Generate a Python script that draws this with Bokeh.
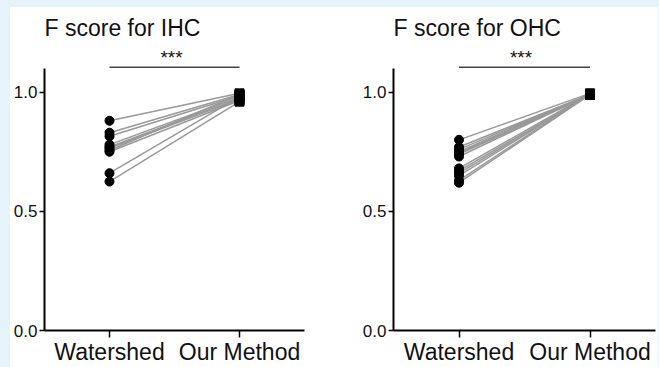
from bokeh.plotting import figure
from bokeh.layouts import row, column
from bokeh.models import Spacer, FixedTicker, NumeralTickFormatter, Range1d, FactorRange
from bokeh.core.properties import value
from bokeh.embed import file_html
from bokeh.resources import INLINE

groups = ["Watershed", "Our Method"]

ihc_watershed = [0.88, 0.83, 0.815, 0.78, 0.77, 0.765, 0.755, 0.75, 0.66, 0.625]
ihc_ours = [0.995, 0.99, 0.985, 0.98, 0.975, 0.97, 0.99, 0.965, 0.98, 0.96]

ohc_watershed = [0.80, 0.77, 0.76, 0.75, 0.745, 0.74, 0.73, 0.68, 0.67, 0.66, 0.65, 0.63, 0.62]
ohc_ours = [0.995, 0.99, 0.99, 0.992, 0.99, 0.988, 0.99, 0.993, 0.99, 0.989, 0.99, 0.991, 0.99]

titles = ["F score for IHC", "F score for OHC"]
sig_label = "***"
sig_y = 1.105
y_ticks = [0.0, 0.5, 1.0]

FONT = "Liberation Sans"
BG = "#e7f3fb"
TOP_PAD = 7
FIG_H = 367 - TOP_PAD


def make_panel(title, ws, ours, width, left_border, right_border):
    p = figure(width=width, height=FIG_H, x_range=FactorRange(factors=groups),
               y_range=Range1d(0, 1.2), output_backend="svg", toolbar_location=None,
               min_border_left=left_border, min_border_right=right_border,
               min_border_top=37, min_border_bottom=37,
               title=title)
    p.title.text_font = FONT
    p.title.text_font_size = "23px"
    p.title.text_font_style = "normal"
    p.title.text_color = "#111111"
    p.title.standoff = 8
    p.title.offset = 0
    p.outline_line_color = None
    p.background_fill_color = "white"
    p.border_fill_color = "white"
    p.xgrid.visible = False
    p.ygrid.visible = False

    for a, b in zip(ws, ours):
        p.line(x=groups, y=[a, b], line_color="#999999", line_width=1.5)
    p.scatter(x=[groups[0]] * len(ws), y=ws, marker="circle", size=9,
              fill_color="black", line_color="black")
    p.scatter(x=[groups[1]] * len(ours), y=ours, marker="square", size=9,
              fill_color="black", line_color="black")

    p.segment(x0=[groups[0]], y0=[sig_y], x1=[groups[1]], y1=[sig_y],
              line_color="#444444", line_width=1.5)
    p.text(x=[groups[0]], y=[sig_y], text=[sig_label],
           x_offset=62, y_offset=1, text_align="center", text_baseline="bottom",
           text_font=value(FONT), text_font_size="19px", text_color="#111111")

    yax = p.yaxis[0]
    yax.ticker = FixedTicker(ticks=y_ticks)
    yax.formatter = NumeralTickFormatter(format="0.0")
    yax.bounds = (0, 1.1)
    yax.axis_line_width = 2
    yax.major_tick_line_width = 1.5
    yax.major_tick_out = 5
    yax.major_tick_in = 0
    yax.minor_tick_line_color = None
    yax.major_label_standoff = 2
    yax.major_label_text_font = FONT
    yax.major_label_text_font_size = "17px"
    yax.major_label_text_color = "#111111"

    xax = p.xaxis[0]
    xax.axis_line_width = 2
    xax.major_tick_line_width = 1.5
    xax.major_tick_out = 7
    xax.major_tick_in = 0
    xax.major_label_standoff = 1
    xax.major_label_text_font = FONT
    xax.major_label_text_font_size = "23px"
    xax.major_label_text_color = "#111111"
    return p


p1 = make_panel(titles[0], ihc_watershed, ihc_ours, 330, 32, 36)
p2 = make_panel(titles[1], ohc_watershed, ohc_ours, 318, 53, 3)

layout = column(
    Spacer(width=659, height=TOP_PAD, styles={"background-color": BG}),
    row(Spacer(width=10, height=FIG_H, styles={"background-color": BG}), p1, p2,
        Spacer(width=1, height=FIG_H, styles={"background-color": BG}),
        spacing=0, styles={"background-color": "white"}),
    spacing=0,
    styles={"background-color": BG},
)

open("out.html", "w").write(file_html(layout, INLINE))
